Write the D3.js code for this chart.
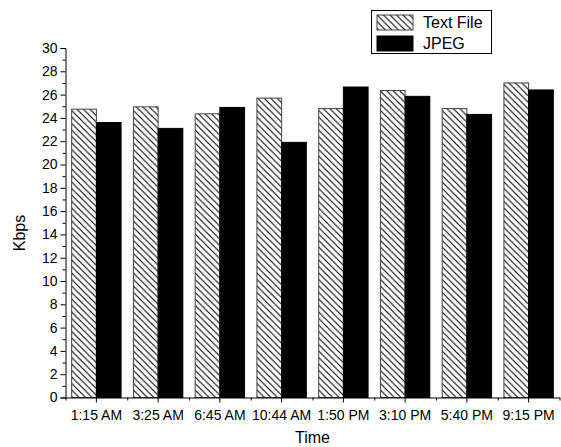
<!DOCTYPE html>
<html>
<head>
<meta charset="utf-8">
<script src="https://cdn.jsdelivr.net/npm/d3@7"></script>
<style>
  body { margin: 0; background: #fff; }
  svg text { font-family: "Liberation Sans", Arial, sans-serif; fill: #000; }
</style>
</head>
<body>
<svg id="chart"></svg>
<script>
const times = ["1:15 AM", "3:25 AM", "6:45 AM", "10:44 AM", "1:50 PM", "3:10 PM", "5:40 PM", "9:15 PM"];
const textFile = [24.75, 24.95, 24.35, 25.7, 24.8, 26.35, 24.8, 27.0];
const jpeg = [23.6, 23.1, 24.9, 21.9, 26.65, 25.85, 24.3, 26.4];
const series = ["Text File", "JPEG"];
const yTicks = [0, 2, 4, 6, 8, 10, 12, 14, 16, 18, 20, 22, 24, 26, 28, 30];

const width = 561, height = 447;
const plotLeft = 65.5, plotRight = 559.5, plotTop = 48, plotBottom = 397.5;

const svg = d3.select("#chart")
    .attr("width", width)
    .attr("height", height);

// hatch for the text file bars
const defs = svg.append("defs");
defs.append("pattern")
    .attr("id", "hatch")
    .attr("patternUnits", "userSpaceOnUse")
    .attr("width", 6.5)
    .attr("height", 6.5)
    .append("path")
    .attr("d", "M-1,-1 L7.5,7.5 M-1,5.5 L1,7.5 M5.5,-1 L7.5,1")
    .style("stroke", "#000")
    .style("stroke-width", 1.1);

const x = d3.scaleBand()
    .domain(times)
    .range([plotLeft, plotRight])
    .paddingInner(0.2)
    .paddingOuter(0.1);

const xs = d3.scaleBand()
    .domain(series)
    .range([0, x.bandwidth()]);

const y = d3.scaleLinear()
    .domain([0, 30])
    .range([plotBottom, plotTop]);

const rows = times.map((t, i) => ({time: t, values: [textFile[i], jpeg[i]]}));

const groups = svg.selectAll(".group")
    .data(rows)
    .enter()
    .append("g")
    .attr("class", "group")
    .attr("transform", d => `translate(${x(d.time)} 0)`);

groups.selectAll("rect")
    .data(d => d.values.map((v, j) => ({name: series[j], value: v})))
    .enter()
    .append("rect")
    .attr("x", d => xs(d.name))
    .attr("y", d => y(d.value))
    .attr("width", xs.bandwidth())
    .attr("height", d => y(0) - y(d.value))
    .style("fill", d => d.name === "JPEG" ? "#000" : "url(#hatch)")
    .style("stroke", d => d.name === "JPEG" ? "#000" : "#444")
    .style("stroke-width", 1);

// y axis
const yAxis = svg.append("g")
    .attr("transform", `translate(${plotLeft} 0)`)
    .call(d3.axisLeft(y).tickValues(yTicks).tickSize(5).tickPadding(3));
yAxis.append("g")
    .attr("class", "minor")
    .call(d3.axisLeft(y).tickValues(d3.range(1, 30, 2)).tickSize(3).tickFormat(""));
yAxis.selectAll("text").style("font-size", "14px");

// x axis
const step = x.step();
const edges = d3.range(0, times.length + 1).map(i => plotLeft + i * step);
const xAxis = svg.append("g")
    .attr("transform", `translate(0 ${plotBottom})`)
    .call(d3.axisBottom(x).tickSize(5).tickPadding(8).tickSizeOuter(0));
xAxis.append("g")
    .attr("class", "minor")
    .call(d3.axisBottom(d3.scaleLinear().domain([plotLeft, plotRight]).range([plotLeft, plotRight]))
        .tickValues(edges).tickSize(3).tickFormat(""));
xAxis.selectAll("text").style("font-size", "14px");

svg.selectAll(".domain").style("stroke", "#000");
svg.selectAll(".tick line").style("stroke", "#000");
svg.selectAll(".minor .domain").remove();

// axis titles
svg.append("text")
    .attr("x", (plotLeft + plotRight) / 2)
    .attr("y", 443)
    .attr("text-anchor", "middle")
    .style("font-size", "16px")
    .text("Time");

svg.append("text")
    .attr("transform", "translate(25 233) rotate(-90)")
    .attr("text-anchor", "middle")
    .style("font-size", "16px")
    .text("Kbps");

// legend
const legend = svg.append("g").attr("transform", "translate(371.5 10.5)");
legend.append("rect")
    .attr("width", 120)
    .attr("height", 43)
    .style("fill", "#fff")
    .style("stroke", "#000");
const items = legend.selectAll(".item")
    .data(series)
    .enter()
    .append("g")
    .attr("class", "item")
    .attr("transform", (d, i) => `translate(5.5 ${4.5 + i * 21})`);
items.append("rect")
    .attr("width", 36)
    .attr("height", 15)
    .style("fill", d => d === "JPEG" ? "#000" : "url(#hatch)")
    .style("stroke", d => d === "JPEG" ? "#000" : "#444");
items.append("text")
    .attr("x", 46)
    .attr("y", 13)
    .style("font-size", "16px")
    .text(d => d);
</script>
</body>
</html>
